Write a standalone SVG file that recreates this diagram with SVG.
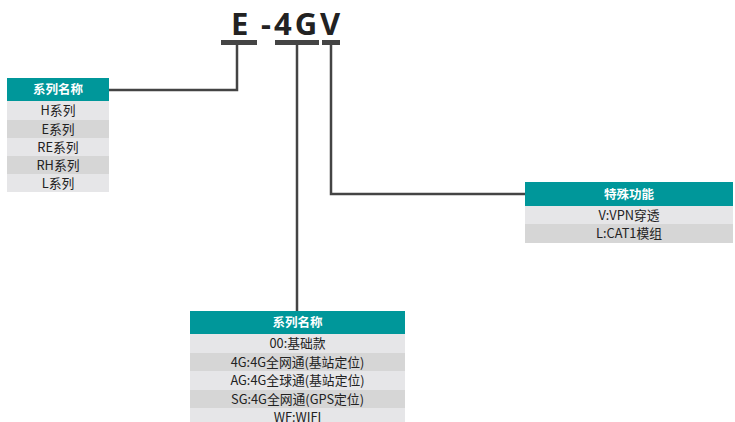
<svg xmlns="http://www.w3.org/2000/svg" width="735" height="422" viewBox="0 0 735 422">
<style>
.hd{fill:#00979a}
.r1{fill:#e6e6e8}
.r2{fill:#d6d6d6}
.ht{font-family:"Noto Sans CJK SC","Noto Sans",sans-serif;font-size:12.5px;font-weight:bold;fill:#ffffff;text-anchor:middle}
.rt{font-family:"Noto Sans CJK SC","Noto Sans",sans-serif;font-size:12.8px;fill:#222222;text-anchor:middle}
.ln{fill:none;stroke:#444444;stroke-width:2.5}
.bar{fill:#444444}
.title{font-family:"Noto Sans","Open Sans",sans-serif;font-size:31px;font-weight:bold;fill:#222222;letter-spacing:3px}
</style>
<rect width="735" height="422" fill="#ffffff"/>
<g id="title">
<text class="title" x="231" y="35">E</text>
<text class="title" x="261" y="35">-4GV</text>
<rect class="bar" x="221" y="40" width="36" height="5"/>
<rect class="bar" x="275" y="40" width="44" height="5"/>
<rect class="bar" x="322" y="40" width="18" height="5"/>
</g>
<g id="connectors">
<polyline class="ln" points="237,44 237,90 109,90"/>
<polyline class="ln" points="297,44 297,311"/>
<polyline class="ln" points="331,44 331,194 525,194"/>
</g>
<g id="series">
<rect class="hd" x="7" y="78" width="102" height="23"/>
<text class="ht" x="58" y="94">系列名称</text>
<rect class="r1" x="7" y="101" width="102" height="19"/>
<text class="rt" x="58" y="115">H系列</text>
<rect class="r2" x="7" y="120" width="102" height="18"/>
<text class="rt" x="58" y="133.5">E系列</text>
<rect class="r1" x="7" y="138" width="102" height="18"/>
<text class="rt" x="58" y="151.5">RE系列</text>
<rect class="r2" x="7" y="156" width="102" height="18"/>
<text class="rt" x="58" y="169.5">RH系列</text>
<rect class="r1" x="7" y="174" width="102" height="18"/>
<text class="rt" x="58" y="187.5">L系列</text>
</g>
<g id="feature">
<rect class="hd" x="525" y="182" width="208" height="24"/>
<text class="ht" x="629" y="199">特殊功能</text>
<rect class="r1" x="525" y="206" width="208" height="18"/>
<text class="rt" x="629" y="219.5">V:VPN穿透</text>
<rect class="r2" x="525" y="224" width="208" height="19"/>
<text class="rt" x="629" y="238">L:CAT1模组</text>
</g>
<g id="network">
<rect class="hd" x="190" y="311" width="215" height="23"/>
<text class="ht" x="297.5" y="327">系列名称</text>
<rect class="r1" x="190" y="334" width="215" height="19"/>
<text class="rt" x="297.5" y="348">00:基础款</text>
<rect class="r2" x="190" y="353" width="215" height="18"/>
<text class="rt" x="297.5" y="366.5">4G:4G全网通(基站定位)</text>
<rect class="r1" x="190" y="371" width="215" height="19"/>
<text class="rt" x="297.5" y="385">AG:4G全球通(基站定位)</text>
<rect class="r2" x="190" y="390" width="215" height="18"/>
<text class="rt" x="297.5" y="403.5">SG:4G全网通(GPS定位)</text>
<rect class="r1" x="190" y="408" width="215" height="14"/>
<text class="rt" x="297.5" y="421.5">WF:WIFI</text>
</g>
</svg>
